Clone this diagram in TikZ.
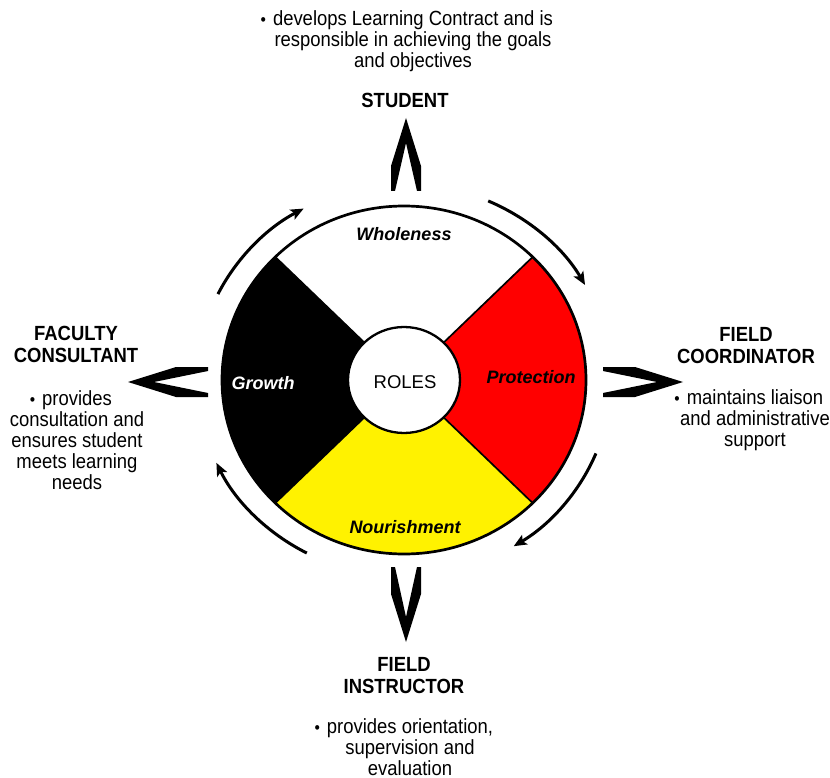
\documentclass[tikz,border=0pt]{standalone}
\usepackage{fontspec}
\setmainfont{Liberation Sans}[FakeStretch=0.9]
\newfontfamily\wheelfont{Liberation Sans}
\usetikzlibrary{arrows.meta}
% hanging bullet placed left of a centred first line
\newcommand\itembullet{\llap{{\fontsize{17}{17}\selectfont •}\hspace{7pt}}}
\begin{document}
\begin{tikzpicture}[x=1pt,y=-1pt,
  body/.style={align=center,inner sep=0pt,font=\fontsize{20.5}{21}\selectfont},
  head/.style={align=center,inner sep=0pt,font=\fontsize{20.5}{22}\selectfont\bfseries},
  wlabel/.style={inner sep=0pt,font=\wheelfont\fontsize{18}{20}\selectfont\bfseries\itshape},
  cycle arrow/.style={line width=3pt,-{Stealth[length=13pt,width=11pt,inset=3pt]}},
  divider/.style={line width=1.7pt},
  chevron/.style={fill=black}]
\useasboundingbox (0,0) rectangle (830,778);

% the four-quadrant wheel
\begin{scope}[shift={(404,380)}]
  \fill[red]    (0,0) -- (-45:182 and 174) arc[start angle=-45,end angle=45,x radius=182,y radius=174] -- cycle;
  \fill[yellow] (0,0) -- (45:182 and 174) arc[start angle=45,end angle=135,x radius=182,y radius=174] -- cycle;
  \fill[black]  (0,0) -- (135:182 and 174) arc[start angle=135,end angle=225,x radius=182,y radius=174] -- cycle;
  \foreach \a in {45,135,225,315}
    \draw[divider] (\a:40 and 37.5) -- (\a:182 and 174);
  \draw[line width=2.7pt] (0,0) ellipse[x radius=182,y radius=174];
  \draw[line width=2.3pt,fill=white] (0,0) ellipse[x radius=56,y radius=53];

  % clockwise arrows around the wheel
  \draw[cycle arrow] (206:207 and 196) arc[start angle=206,end angle=241,x radius=207,y radius=196];
  \draw[cycle arrow] (294:207 and 196) arc[start angle=294,end angle=331,x radius=207,y radius=196];
  \draw[cycle arrow] (22:207 and 196) arc[start angle=22,end angle=58,x radius=207,y radius=196];
  \draw[cycle arrow] (118:207 and 196) arc[start angle=118,end angle=155,x radius=207,y radius=196];
\end{scope}

\node[wlabel] (wholeness) at (404,234) {Wholeness};
\node[wlabel,text=white] (growth) at (263,383) {Growth};
\node[inner sep=0pt,font=\wheelfont\fontsize{18.5}{20}\selectfont] (roles) at (405,382) {ROLES};
\node[wlabel] (protection) at (531,377) {Protection};
\node[wlabel] (nourishment) at (405,527) {Nourishment};

% chevrons pointing out to the four roles
\fill[chevron] (406,118) -- (391,166) -- (391,191) -- (395,191) -- (406,143) -- (417,191) -- (421,191) -- (421,166) -- cycle;
\fill[chevron] (406,642) -- (391,594) -- (391,567) -- (395,567) -- (406,617) -- (417,567) -- (421,567) -- (421,594) -- cycle;
\fill[chevron] (128,382) -- (176,367) -- (208,367) -- (208,371) -- (154,382) -- (208,393) -- (208,397) -- (176,397) -- cycle;
\fill[chevron] (683,382) -- (635,367) -- (603,367) -- (603,371) -- (657,382) -- (603,393) -- (603,397) -- (635,397) -- cycle;

% roles and their duties
\node[body] (studentnote) at (413,41) {\itembullet develops Learning Contract and is\\responsible in achieving the goals\\and objectives};
\node[head] (student) at (405,100) {STUDENT};
\node[head] (faculty) at (76,344) {FACULTY\\CONSULTANT};
\node[body] (facultynote) at (77,440) {\itembullet provides\\consultation and\\ensures student\\meets learning\\needs};
\node[head] (coordinator) at (746,346) {FIELD\\COORDINATOR};
\node[body] (coordinatornote) at (755,420) {\itembullet maintains liaison\\and administrative\\support};
\node[head] (instructor) at (404,676) {FIELD\\INSTRUCTOR};
\node[body] (instructornote) at (410,747) {\itembullet provides orientation,\\supervision and\\evaluation};
\end{tikzpicture}
\end{document}
